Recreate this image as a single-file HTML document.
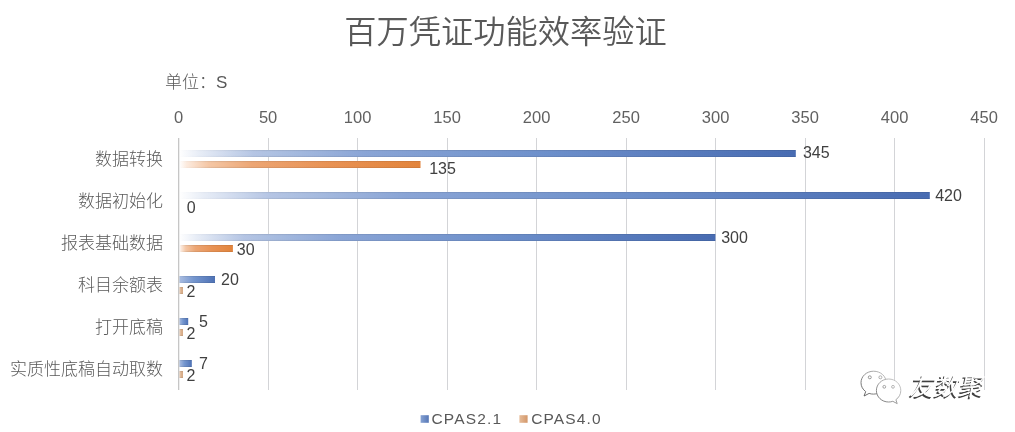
<!DOCTYPE html>
<html lang="zh-CN"><head><meta charset="utf-8"><title>百万凭证功能效率验证</title>
<style>
html,body{margin:0;padding:0;background:#fff;}
body{width:1015px;height:432px;overflow:hidden;}
svg{display:block;}
text{font-family:"Liberation Sans","Noto Sans CJK SC",sans-serif;}
.cj{font-weight:300;}
.ax{font-size:16.5px;fill:#616161;text-anchor:middle;}
.dl{font-size:16px;fill:#404040;}
.cat{font-size:17px;fill:#595959;font-weight:300;text-anchor:end;}
.lg{font-size:15.5px;fill:#595959;letter-spacing:1.15px;}
</style></head><body>
<svg width="1015" height="432" viewBox="0 0 1015 432">
<defs>
<linearGradient id="gb" x1="0" y1="0" x2="1" y2="0"><stop offset="0" stop-color="#ffffff"/><stop offset="0.03" stop-color="#e9eef7"/><stop offset="0.12" stop-color="#b4c5e4"/><stop offset="0.3" stop-color="#88a4d6"/><stop offset="0.6" stop-color="#6a8dca"/><stop offset="1" stop-color="#4469b1"/></linearGradient>
<linearGradient id="go" x1="0" y1="0" x2="1" y2="0"><stop offset="0" stop-color="#ffffff"/><stop offset="0.03" stop-color="#fcebdf"/><stop offset="0.12" stop-color="#f5c7a5"/><stop offset="0.3" stop-color="#eda572"/><stop offset="0.6" stop-color="#e99152"/><stop offset="1" stop-color="#e38238"/></linearGradient>
<linearGradient id="gbs" x1="0" y1="0" x2="1" y2="0"><stop offset="0" stop-color="#a9bde1"/><stop offset="0.4" stop-color="#7395cf"/><stop offset="1" stop-color="#4a6fb4"/></linearGradient>
<linearGradient id="gos" x1="0" y1="0" x2="1" y2="0"><stop offset="0" stop-color="#eccdb2"/><stop offset="1" stop-color="#cf9c72"/></linearGradient>
<linearGradient id="ed" x1="0" y1="0" x2="0" y2="1"><stop offset="0" stop-color="#000" stop-opacity="0.13"/><stop offset="0.3" stop-color="#fff" stop-opacity="0.02"/><stop offset="0.7" stop-color="#fff" stop-opacity="0.02"/><stop offset="1" stop-color="#000" stop-opacity="0.13"/></linearGradient>
<linearGradient id="edm" x1="0" y1="0" x2="1" y2="0"><stop offset="0" stop-color="#fff" stop-opacity="0"/><stop offset="0.15" stop-color="#fff" stop-opacity="1"/></linearGradient>
<mask id="mk" maskContentUnits="objectBoundingBox"><rect width="1" height="1" fill="url(#edm)"/></mask>
<linearGradient id="lgb" x1="0" y1="0" x2="1" y2="0"><stop offset="0" stop-color="#86a2d3"/><stop offset="1" stop-color="#5677b6"/></linearGradient>
<linearGradient id="lgo" x1="0" y1="0" x2="1" y2="0"><stop offset="0" stop-color="#e6bc99"/><stop offset="1" stop-color="#d3976a"/></linearGradient>
<linearGradient id="wg" gradientUnits="userSpaceOnUse" x1="898" y1="372" x2="866" y2="402"><stop offset="0" stop-color="#d8d8d8"/><stop offset="0.45" stop-color="#9a9a9a"/><stop offset="1" stop-color="#4a4a4a"/></linearGradient>
</defs>
<rect width="1015" height="432" fill="#fff"/>

<text x="505.4" y="43.3" text-anchor="middle" font-size="32.25" fill="#595959" font-weight="350">百万凭证功能效率验证</text>
<text x="165" y="88.3" font-size="17" fill="#595959" class="cj">单位：S</text>
<rect x="178" y="138" width="1" height="252" fill="#c6c6c6"/>
<text x="178.6" y="123.1" class="ax">0</text>
<rect x="268" y="138" width="1" height="252" fill="#d3d4d7"/>
<text x="268.1" y="123.1" class="ax">50</text>
<rect x="357" y="138" width="1" height="252" fill="#d3d4d7"/>
<text x="357.6" y="123.1" class="ax">100</text>
<rect x="447" y="138" width="1" height="252" fill="#d3d4d7"/>
<text x="447.1" y="123.1" class="ax">150</text>
<rect x="536" y="138" width="1" height="252" fill="#d3d4d7"/>
<text x="536.6" y="123.1" class="ax">200</text>
<rect x="626" y="138" width="1" height="252" fill="#d3d4d7"/>
<text x="626.1" y="123.1" class="ax">250</text>
<rect x="715" y="138" width="1" height="252" fill="#d3d4d7"/>
<text x="715.6" y="123.1" class="ax">300</text>
<rect x="805" y="138" width="1" height="252" fill="#d3d4d7"/>
<text x="805.1" y="123.1" class="ax">350</text>
<rect x="894" y="138" width="1" height="252" fill="#d3d4d7"/>
<text x="894.6" y="123.1" class="ax">400</text>
<rect x="984" y="138" width="1" height="252" fill="#d3d4d7"/>
<text x="984.1" y="123.1" class="ax">450</text>
<text x="163" y="164.7" class="cat">数据转换</text>
<rect x="179.3" y="150" width="616.5" height="7" fill="url(#gb)"/>
<rect x="179.3" y="150" width="616.5" height="7" fill="url(#ed)" mask="url(#mk)"/>
<text x="802.9" y="158.1" class="dl">345</text>
<rect x="179.3" y="161" width="241.2" height="7" fill="url(#go)"/>
<rect x="179.3" y="161" width="241.2" height="7" fill="url(#ed)" mask="url(#mk)"/>
<text x="429.2" y="173.8" class="dl">135</text>
<text x="163" y="206.7" class="cat">数据初始化</text>
<rect x="179.3" y="192" width="750.5" height="7" fill="url(#gb)"/>
<rect x="179.3" y="192" width="750.5" height="7" fill="url(#ed)" mask="url(#mk)"/>
<text x="935.2" y="201.1" class="dl">420</text>
<text x="186.8" y="213.2" class="dl">0</text>
<text x="163" y="248.7" class="cat">报表基础数据</text>
<rect x="179.3" y="234" width="536.1" height="7" fill="url(#gb)"/>
<rect x="179.3" y="234" width="536.1" height="7" fill="url(#ed)" mask="url(#mk)"/>
<text x="721.2" y="243.3" class="dl">300</text>
<rect x="179.3" y="245" width="53.6" height="7" fill="url(#go)"/>
<rect x="179.3" y="245" width="53.6" height="7" fill="url(#ed)" mask="url(#mk)"/>
<text x="236.8" y="255.3" class="dl">30</text>
<text x="163" y="290.7" class="cat">科目余额表</text>
<rect x="179.3" y="276" width="35.7" height="7" fill="url(#gbs)"/>
<rect x="179.3" y="276" width="35.7" height="7" fill="url(#ed)" mask="url(#mk)"/>
<text x="221.0" y="284.8" class="dl">20</text>
<rect x="179.3" y="287" width="3.6" height="7" fill="url(#gos)"/>
<rect x="179.3" y="287" width="3.6" height="7" fill="url(#ed)" mask="url(#mk)"/>
<text x="186.6" y="297.0" class="dl">2</text>
<text x="163" y="332.7" class="cat">打开底稿</text>
<rect x="179.3" y="318" width="8.9" height="7" fill="url(#gbs)"/>
<rect x="179.3" y="318" width="8.9" height="7" fill="url(#ed)" mask="url(#mk)"/>
<text x="199.0" y="327.0" class="dl">5</text>
<rect x="179.3" y="329" width="3.6" height="7" fill="url(#gos)"/>
<rect x="179.3" y="329" width="3.6" height="7" fill="url(#ed)" mask="url(#mk)"/>
<text x="186.4" y="338.7" class="dl">2</text>
<text x="163" y="374.7" class="cat">实质性底稿自动取数</text>
<rect x="179.3" y="360" width="12.5" height="7" fill="url(#gbs)"/>
<rect x="179.3" y="360" width="12.5" height="7" fill="url(#ed)" mask="url(#mk)"/>
<text x="199.0" y="368.8" class="dl">7</text>
<rect x="179.3" y="371" width="3.6" height="7" fill="url(#gos)"/>
<rect x="179.3" y="371" width="3.6" height="7" fill="url(#ed)" mask="url(#mk)"/>
<text x="186.4" y="381.0" class="dl">2</text>
<rect x="178" y="138" width="1.3" height="252" fill="#c6c6c6"/>
<rect x="420.6" y="415.2" width="8.2" height="7.6" fill="url(#lgb)"/>
<text x="431.5" y="423.6" class="lg">CPAS2.1</text>
<rect x="519.4" y="415.2" width="8.2" height="7.6" fill="url(#lgo)"/>
<text x="531.2" y="423.6" class="lg">CPAS4.0</text>
<g id="wm">
<g fill="#fff" stroke="url(#wg)" stroke-width="0.9">
<path d="M873.6 371.2c-7 0-12.6 5.1-12.6 11.5 0 3.6 1.8 6.8 4.7 8.9l-1.6 4.4 5-2.6c1.4 0.5 2.9 0.7 4.5 0.7 7 0 12.6-5.100 12.6-11.5s-5.600-11.400-12.600-11.400z"/>
<path d="M888.6 379c-6.800 0-12.200 5.100-12.200 11.500s5.400 11.500 12.200 11.500c1.500 0 2.900-0.200 4.200-0.700l4.400 2.300-1.300-3.900c3-2.100 4.900-5.400 4.900-9.200 0-6.400-5.400-11.500-12.200-11.500z"/>
<circle cx="869.8" cy="377.3" r="1.500"/><circle cx="880.4" cy="377.300" r="1.5"/>
<circle cx="884.300" cy="386.800" r="1.400"/><circle cx="893" cy="386.800" r="1.400"/>
</g>
<g transform="translate(909.2 395.4) skewX(-13)">
<text x="-1.2" y="1.2" font-size="24.5" fill="#404040" font-weight="400">友数聚</text>
<text x="0" y="0" font-size="24.5" fill="#ffffff" font-weight="400">友数聚</text>
</g>
</g>
</svg></body></html>
